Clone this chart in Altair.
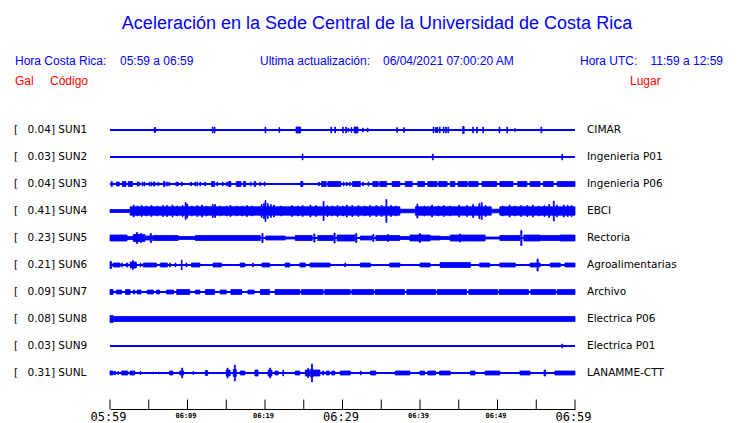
import json
import altair as alt
import pandas as pd

# ---------------- data ----------------
TITLE = "Aceleración en la Sede Central de la Universidad de Costa Rica"
HDR_CR_LABEL = "Hora Costa Rica:"
HDR_CR_VALUE = "05:59 a 06:59"
HDR_UPD_LABEL = "Ultima actualización:"
HDR_UPD_VALUE = "06/04/2021 07:00:20 AM"
HDR_UTC_LABEL = "Hora UTC:"
HDR_UTC_VALUE = "11:59 a 12:59"
COL_GAL = "Gal"
COL_CODE = "Código"
COL_PLACE = "Lugar"

stations = ["SUN1", "SUN2", "SUN3", "SUN4", "SUN5", "SUN6", "SUN7", "SUN8", "SUN9", "SUNL"]
peaks = ["0.04", "0.03", "0.04", "0.41", "0.23", "0.21", "0.09", "0.08", "0.03", "0.31"]
places = ["CIMAR", "Ingenieria P01", "Ingenieria P06", "EBCI", "Rectoria",
          "Agroalimentarias", "Archivo", "Electrica P06", "Electrica P01", "LANAMME-CTT"]

tick_minutes = [0, 5, 10, 15, 20, 25, 30, 35, 40, 45, 50, 55, 60]
label_minutes = [0, 10, 20, 30, 40, 50, 60]
tick_labels = ["05:59", "06:09", "06:19", "06:29", "06:39", "06:49", "06:59"]

# trace envelopes: (start minute, end minute, half amplitude in screen px)
sun1 = [(5.7, 5.9, 2.5), (13.2, 13.3, 3), (13.45, 13.55, 3), (20.0, 20.1, 3), (21.8, 21.9, 2.5),
        (24.0, 24.6, 3), (28.5, 28.6, 3), (29.0, 29.1, 3), (30.0, 30.1, 3), (30.4, 30.5, 3),
        (30.7, 30.8, 2), (31.1, 31.2, 2.5), (31.5, 32.0, 3), (32.6, 32.7, 2), (33.2, 33.3, 2),
        (37.0, 37.1, 2.5), (37.9, 38.0, 2.5), (41.7, 41.8, 3), (42.0, 42.3, 2.5), (42.5, 42.6, 3),
        (43.0, 43.1, 3), (43.3, 43.4, 3), (43.6, 43.7, 3), (45.5, 45.7, 3.5), (46.8, 46.9, 3),
        (47.3, 47.4, 3), (48.1, 48.2, 3), (50.2, 50.3, 3), (51.2, 51.3, 3), (52.2, 52.3, 1.5),
        (55.6, 55.7, 3)]
sun2 = [(24.8, 24.9, 3), (41.6, 41.7, 3), (58.3, 58.4, 3)]
sun3 = [(0.15, 0.3, 2.5), (0.85, 1.2, 2), (1.6, 2.05, 2.5), (2.35, 2.9, 2.5), (3.5, 3.8, 2),
        (4.15, 4.25, 2), (4.4, 4.5, 2), (5.05, 5.15, 2), (5.3, 5.4, 2), (5.6, 5.8, 2), (6.2, 6.3, 2),
        (6.9, 7.1, 2.5), (7.3, 7.4, 2), (7.6, 7.7, 2), (8.5, 8.6, 2), (8.7, 8.8, 2), (9.2, 9.3, 2),
        (10.4, 10.5, 2), (10.95, 11.05, 2), (11.2, 11.3, 2), (11.6, 11.7, 2), (12.2, 12.3, 2),
        (13.1, 13.5, 2.5), (13.8, 13.9, 2), (14.5, 14.6, 2), (15.05, 15.15, 2), (15.3, 15.6, 2.5),
        (16.3, 16.9, 2.5), (17.2, 17.5, 2.5), (18.1, 18.2, 2), (18.6, 18.8, 2.5), (19.35, 19.45, 2),
        (19.9, 20.0, 2), (24.6, 24.9, 2.5), (26.9, 27.0, 2), (27.3, 27.9, 2.5), (28.1, 29.8, 2.5),
        (30.1, 30.2, 2), (30.5, 30.6, 2), (30.9, 31.0, 2), (31.3, 32.3, 2.5), (32.6, 32.7, 2),
        (33.3, 33.4, 2), (33.9, 34.6, 2.5), (34.8, 35.7, 2.5), (36.4, 37.4, 2.5), (38.1, 39.0, 2.5),
        (39.7, 40.6, 2.5), (41.0, 42.2, 2.5), (42.4, 43.5, 2.5), (43.9, 44.5, 2.5), (44.9, 46.1, 2.5),
        (46.3, 47.5, 2.5), (48.0, 49.9, 2.5), (50.3, 52.0, 2.5), (52.6, 53.8, 2.5), (54.2, 55.5, 2.5),
        (55.9, 57.2, 2.5), (57.7, 60.0, 2.5)]
sun4 = [(0.0, 2.6, 1.5), (2.6, 37.4, 4.2), (37.4, 39.4, 1.8), (39.4, 49.2, 4.2), (49.2, 50.3, 1.8),
        (50.3, 60.0, 4.2),
        (3.0, 3.12, 6), (3.5, 3.62, 5), (4.0, 4.12, 5.5), (4.6, 4.72, 5), (5.3, 5.42, 5.5),
        (6.0, 6.12, 5), (6.8, 6.92, 5.5), (7.3, 7.42, 5.5), (8.0, 8.12, 6), (8.6, 8.72, 5),
        (9.3, 9.42, 5.5), (9.7, 9.82, 8.5), (9.9, 10.02, 7), (10.5, 10.62, 5), (11.2, 11.32, 5.5),
        (11.8, 11.92, 6), (12.4, 12.52, 5), (13.2, 13.32, 6.5), (13.5, 13.62, 6.5), (14.2, 14.32, 5),
        (15.0, 15.12, 5), (15.5, 15.62, 5.5), (16.3, 16.42, 5), (17.0, 17.12, 5), (17.6, 17.72, 5.5),
        (18.3, 18.42, 5), (19.5, 19.62, 6.5), (19.8, 19.92, 7.5), (20.0, 20.12, 10.5), (20.3, 20.42, 7.5),
        (20.7, 20.82, 6.5), (21.1, 21.22, 6), (22.0, 22.12, 5), (23.4, 23.52, 5.5), (24.2, 24.32, 5),
        (24.8, 24.92, 5.5), (25.8, 25.92, 6), (26.5, 26.62, 5.5), (27.5, 27.62, 9.5), (28.0, 28.12, 5.5),
        (28.6, 28.72, 5), (29.3, 29.42, 5.5), (30.0, 30.12, 5), (30.5, 30.62, 6), (31.2, 31.32, 5.5),
        (32.0, 32.12, 5.5), (32.8, 32.92, 5), (33.5, 33.62, 5.5), (34.3, 34.42, 5.5), (35.0, 35.12, 5.5),
        (35.6, 35.72, 11.5), (36.2, 36.32, 5.5), (36.8, 36.92, 5), (39.6, 39.72, 7), (40.5, 40.62, 5),
        (41.5, 41.62, 6), (42.3, 42.42, 5), (43.0, 43.12, 5.5), (43.8, 43.92, 5), (45.0, 45.12, 6),
        (46.0, 46.12, 5.5), (46.8, 46.92, 6.5), (47.6, 47.72, 7.5), (47.9, 48.02, 8.5), (48.4, 48.52, 5.5),
        (50.6, 50.72, 5), (51.5, 51.62, 6), (52.2, 52.32, 5), (53.0, 53.12, 5.5), (53.8, 53.92, 5.5),
        (54.5, 54.62, 6), (55.3, 55.42, 5), (56.0, 56.12, 5.5), (56.6, 56.72, 6.5), (57.2, 57.32, 10),
        (57.6, 57.72, 6), (58.5, 58.62, 6), (59.0, 59.12, 5.5), (59.5, 59.62, 5.5)]
sun5 = [(0.0, 2.2, 3), (2.2, 3.0, 1.5), (3.0, 4.5, 3.5), (3.4, 3.55, 5.5), (3.9, 4.05, 4.5),
        (4.5, 5.2, 2), (5.2, 5.35, 4.5), (5.5, 8.8, 2.5), (8.8, 11.0, 1.5), (11.0, 19.4, 2.5),
        (19.6, 19.75, 4.5), (20.1, 22.6, 2), (22.6, 23.9, 1), (23.9, 26.1, 2.5), (26.3, 26.45, 4),
        (26.8, 28.8, 2.5), (28.9, 29.05, 5), (29.3, 31.6, 3), (31.7, 31.85, 4.5), (32.3, 33.8, 2),
        (33.9, 34.05, 3.5), (34.3, 37.4, 2.5), (35.8, 35.95, 3.5), (37.4, 38.7, 1.5), (38.7, 41.3, 3),
        (39.9, 40.05, 4.5), (41.3, 42.6, 2), (42.6, 43.9, 1.5), (43.9, 46.5, 3), (45.1, 45.25, 4),
        (46.5, 48.4, 3), (48.4, 50.3, 1), (50.3, 52.9, 2.5), (53.0, 53.15, 7.5), (53.4, 55.5, 3),
        (55.5, 58.1, 2.5), (58.1, 60.0, 3)]
sun6 = [(0.0, 0.2, 3.5), (0.4, 1.3, 2), (1.5, 1.6, 2), (2.1, 2.3, 2), (2.6, 3.4, 3), (2.9, 3.0, 4.5),
        (3.9, 4.0, 2), (4.3, 6.0, 2), (6.5, 7.4, 2), (7.7, 7.8, 2), (8.4, 8.5, 2), (9.2, 9.3, 5),
        (9.8, 9.9, 2), (10.5, 11.6, 2), (13.3, 14.4, 2), (16.8, 17.4, 2), (18.4, 18.5, 2),
        (19.6, 20.6, 2), (22.6, 23.2, 2), (24.5, 25.2, 2), (25.8, 28.4, 2), (30.3, 30.4, 2),
        (32.3, 33.6, 2), (36.1, 37.4, 2), (40.0, 41.3, 2), (42.6, 46.5, 2.5), (47.7, 49.0, 2),
        (50.3, 52.3, 2), (54.2, 55.5, 2), (55.1, 55.25, 6), (56.8, 58.1, 2), (58.7, 60.0, 2)]
sun7 = [(0.0, 0.4, 2.5), (0.8, 1.5, 2), (2.0, 2.6, 2.5), (3.0, 3.2, 2), (3.5, 4.0, 2), (4.8, 5.6, 2),
        (6.0, 6.4, 2), (7.3, 8.2, 2), (8.6, 10.3, 2.5), (11.0, 11.6, 2), (12.3, 13.5, 2.5),
        (14.2, 15.0, 2), (15.6, 17.0, 2.5), (17.8, 18.6, 2), (19.4, 20.6, 2.5), (21.3, 24.5, 2.5),
        (24.7, 27.5, 2.5), (27.7, 31.0, 2.5), (31.2, 34.0, 2.5), (34.2, 38.0, 2.5), (38.3, 42.0, 2.5),
        (42.2, 46.0, 2.5), (46.3, 50.0, 2.5), (50.2, 54.0, 2.5), (54.3, 57.5, 2.5), (57.7, 60.0, 2.5)]
sun8 = [(0.0, 0.4, 3.5), (0.4, 60.0, 2.5)]
sun9 = [(58.3, 58.4, 2)]
sunl = [(0.0, 0.4, 2), (0.6, 0.7, 2), (1.0, 1.1, 1.5), (1.5, 2.3, 2), (2.6, 3.2, 2), (3.9, 4.0, 1.5),
        (5.5, 5.6, 1), (6.2, 6.3, 1), (7.7, 8.1, 2), (9.0, 9.5, 2), (9.25, 9.37, 5), (10.7, 10.8, 1.5),
        (12.3, 12.6, 2.5), (15.0, 15.5, 3), (15.1, 15.22, 5), (15.9, 16.3, 3.5), (16.05, 16.17, 8),
        (16.8, 17.4, 2), (18.7, 19.1, 3), (20.4, 20.9, 3), (20.6, 20.72, 5), (21.3, 21.7, 2),
        (22.3, 22.4, 3), (23.9, 24.5, 2), (25.2, 25.8, 3), (25.5, 25.62, 4.5), (25.9, 26.2, 4),
        (26.0, 26.12, 9), (26.2, 27.1, 3), (27.4, 27.6, 2), (27.9, 28.3, 2), (28.6, 29.0, 2),
        (29.7, 31.0, 2), (32.3, 32.4, 2), (33.6, 34.3, 2), (36.8, 38.7, 2), (40.0, 40.6, 2),
        (41.0, 42.0, 2), (42.5, 43.9, 2), (46.5, 47.1, 2), (48.4, 50.3, 2), (52.9, 54.2, 2),
        (56.0, 56.2, 3), (57.4, 60.0, 2)]
traces = [sun1, sun2, sun3, sun4, sun5, sun6, sun7, sun8, sun9, sunl]

# ---------------- build tables ----------------
PX_PER_ROW = 27.0
seg_rows = []
for i, segs in enumerate(traces):
    for a, b, amp in segs:
        seg_rows.append({"row": i, "t0": a, "t1": b,
                         "lo": i - amp / PX_PER_ROW, "hi": i + amp / PX_PER_ROW})
seg_df = pd.DataFrame(seg_rows)

st_df = pd.DataFrame({
    "row": list(range(len(stations))),
    "t0": [0] * len(stations),
    "t1": [60] * len(stations),
    "code": [f"{p}] {s}" for p, s in zip(peaks, stations)],
    "place": places,
})
tick_df = pd.DataFrame({"t": tick_minutes})

BLUE = "#0000ff"
RED = "#ff0000"

xscale = alt.Scale(domain=[0, 60], nice=False, zero=False)
yscale = alt.Scale(domain=[-30 / PX_PER_ROW, 279 / PX_PER_ROW], reverse=True, nice=False, zero=False)

xaxis = alt.Axis(
    values=label_minutes,
    labelExpr=f"{json.dumps(tick_labels)}[round(datum.value / 10)]",
    ticks=False, grid=False, domain=True, domainColor="black", domainWidth=1,
    title=None, labelColor="black", labelFont="DejaVu Sans Mono",
    labelFontSize={"condition": {"test": "datum.value % 30 === 0", "value": 12}, "value": 7},
    labelFontWeight={"condition": {"test": "datum.value % 30 === 0", "value": "normal"}, "value": "bold"},
    labelBaseline="top", labelPadding=2, labelOffset=-2,
    labelOverlap=False, labelBound=False, labelFlush=False,
)

X = lambda f: alt.X(f, type="quantitative", scale=xscale, axis=xaxis)
Y = lambda f: alt.Y(f, type="quantitative", scale=yscale, axis=None)

baselines = alt.Chart(st_df).mark_rule(color=BLUE, strokeWidth=2).encode(
    x=X("t0"), x2="t1", y=Y("row"))

envelope = alt.Chart(seg_df).mark_rect(color=BLUE, stroke=BLUE, strokeWidth=0.8).encode(
    x=X("t0"), x2="t1", y=Y("lo"), y2="hi")

ticks = alt.Chart(tick_df).mark_rule(color="black", strokeWidth=1).encode(
    x=X("t"), y=alt.value(299.5), y2=alt.value(309))

TXT = dict(font="DejaVu Sans", fontSize=10.5, color="black", baseline="middle")
bracket = alt.Chart(st_df).mark_text(align="left", text="[", **TXT).encode(
    x=alt.value(-96), y=Y("row"))
codes = alt.Chart(st_df).mark_text(align="left", **TXT).encode(
    x=alt.value(-82.5), y=Y("row"), text="code:N")
place_txt = alt.Chart(st_df).mark_text(align="left", **TXT).encode(
    x=alt.value(477), y=Y("row"), text="place:N")


def header(txt, x, y, color=BLUE, size=12, align="left"):
    return alt.Chart(st_df.head(1)).mark_text(
        text=txt, font="Liberation Sans", fontSize=size, color=color,
        align=align, baseline="middle").encode(x=alt.value(x), y=alt.value(y))


headers = [
    header(TITLE, 267, -76, size=18, align="center"),
    header(HDR_CR_LABEL, -95, -39),
    header(HDR_CR_VALUE, 10, -39),
    header(HDR_UPD_LABEL, 150, -39),
    header(HDR_UPD_VALUE, 273, -39),
    header(HDR_UTC_LABEL, 470, -39),
    header(HDR_UTC_VALUE, 613, -39, align="right"),
    header(COL_GAL, -95, -19, color=RED),
    header(COL_CODE, -60, -19, color=RED),
    header(COL_PLACE, 520, -19, color=RED, align="left"),
]

chart = alt.layer(baselines, envelope, ticks, bracket, codes, place_txt, *headers).properties(
    width=465, height=309,
    padding={"left": 102, "top": 92, "right": 150, "bottom": 14},
    autosize="none",
).configure_view(stroke=None)

chart.save("out.html", embed_options={"renderer": "svg", "actions": False})
